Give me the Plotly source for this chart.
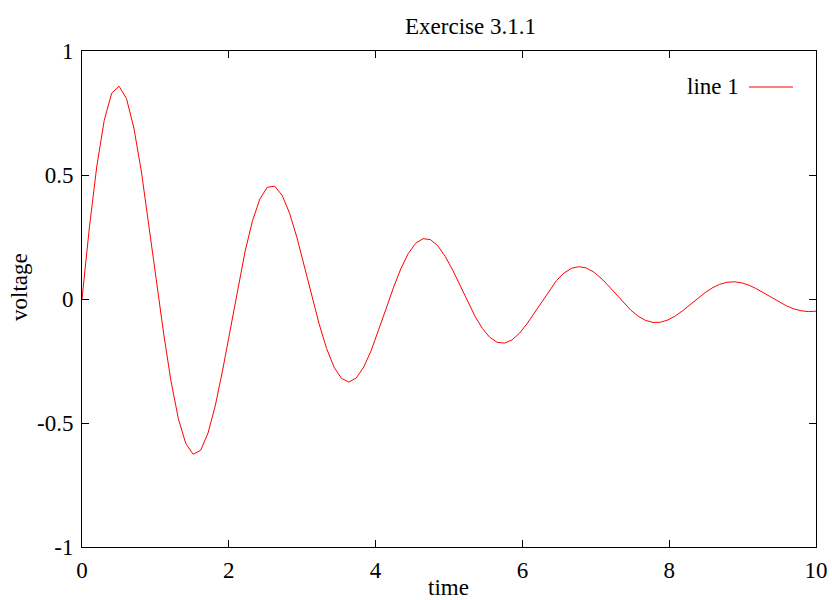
import plotly.graph_objects as go

time = [0.000,0.101,0.202,0.303,0.404,0.505,0.606,0.707,0.808,0.909,1.010,1.111,1.212,1.313,1.414,1.515,1.616,1.717,1.818,1.919,
        2.020,2.121,2.222,2.323,2.424,2.525,2.626,2.727,2.828,2.929,3.030,3.131,3.232,3.333,3.434,3.535,3.636,3.737,3.838,3.939,
        4.040,4.141,4.242,4.343,4.444,4.545,4.646,4.747,4.848,4.949,5.051,5.152,5.253,5.354,5.455,5.556,5.657,5.758,5.859,5.960,
        6.061,6.162,6.263,6.364,6.465,6.566,6.667,6.768,6.869,6.970,7.071,7.172,7.273,7.374,7.475,7.576,7.677,7.778,7.879,7.980,
        8.081,8.182,8.283,8.384,8.485,8.586,8.687,8.788,8.889,8.990,9.091,9.192,9.293,9.394,9.495,9.596,9.697,9.798,9.899,10.000]
voltage = [0.0,0.2895,0.5362,0.7204,0.8298,0.8580,0.8084,0.6893,0.5161,0.3065,
           0.0820,-0.1366,-0.3301,-0.4827,-0.5833,-0.6260,-0.6101,-0.5407,-0.4272,-0.2822,
           -0.1204,0.0425,0.1921,0.3157,0.4038,0.4507,0.4547,0.4178,0.3457,0.2470,
           0.1320,0.0121,-0.1019,-0.2001,-0.2747,-0.3203,-0.3347,-0.3183,-0.2744,-0.2087,
           -0.1281,-0.0409,0.0449,0.1216,0.1829,0.2243,0.2433,0.2394,0.2143,0.1716,
           0.1161,0.0535,-0.0103,-0.0693,-0.1187,-0.1546,-0.1746,-0.1778,-0.1649,-0.1381,
           -0.1005,-0.0562,-0.0094,0.0354,0.0745,0.1046,0.1236,0.1304,0.1252,0.1091,
           0.0842,0.0533,0.0194,-0.0142,-0.0446,-0.0692,-0.0862,-0.0945,-0.0938,-0.0848,
           -0.0688,-0.0476,-0.0234,0.0015,0.0248,0.0445,0.0591,0.0675,0.0694,0.0650,
           0.0551,0.0408,0.0237,0.0055,-0.0121,-0.0276,-0.0397,-0.0476,-0.0508,-0.0492]
x_ticks = [0, 2, 4, 6, 8, 10]
y_ticks = [-1, -0.5, 0, 0.5, 1]
y_tick_text = ["-1", "-0.5", "0", "0.5", "1"]

FONT = "Liberation Serif, Times New Roman, serif"
FS = 23
W, H = 832, 600
L, R, T, B = 82, 16, 51, 53

fig = go.Figure()
fig.add_trace(go.Scatter(x=time, y=voltage, mode="lines",
                         line=dict(color="#ff0000", width=1), name="line 1",
                         showlegend=False))

axis_common = dict(showgrid=False, zeroline=False, showline=True, linecolor="black",
                   linewidth=1, mirror="allticks", ticks="inside", ticklen=7,
                   tickcolor="black", tickwidth=1, automargin=False,
                   tickfont=dict(family=FONT, size=FS, color="black"))
fig.update_xaxes(range=[0, 10], tickvals=x_ticks, ticktext=[str(v) for v in x_ticks],
                 ticklabelstandoff=2, **axis_common)
fig.update_yaxes(range=[-1, 1], tickvals=y_ticks, ticktext=y_tick_text,
                 ticklabelstandoff=3, **axis_common)

pw = W - L - R
ph = H - T - B

def px(x):
    return (x - L) / pw

def py(y):
    return (H - B - y) / ph

# axis titles
fig.add_annotation(x=px(448), y=py(587), xref="paper", yref="paper", text="time",
                   showarrow=False, xanchor="center", yanchor="middle",
                   font=dict(family=FONT, size=FS, color="black"))
fig.add_annotation(x=px(19), y=py(287), xref="paper", yref="paper", text="voltage",
                   showarrow=False, xanchor="center", yanchor="middle", textangle=-90,
                   font=dict(family=FONT, size=FS, color="black"))
# legend: text then sample line, gnuplot style
fig.add_annotation(x=px(741), y=py(86), xref="paper", yref="paper",
                   text="line 1", showarrow=False, xanchor="right", yanchor="middle",
                   font=dict(family=FONT, size=FS, color="black"))
fig.add_shape(type="line", xref="paper", yref="paper",
              x0=px(749), x1=px(793), y0=py(87), y1=py(87),
              line=dict(color="#ff0000", width=1))
# title
fig.add_annotation(x=px(470), y=py(26), xref="paper", yref="paper",
                   text="Exercise 3.1.1", showarrow=False, xanchor="center", yanchor="middle",
                   font=dict(family=FONT, size=FS, color="black"))

fig.update_layout(width=W, height=H, margin=dict(l=L, r=R, t=T, b=B, autoexpand=False),
                  paper_bgcolor="white", plot_bgcolor="white",
                  font=dict(family=FONT, size=FS, color="black"))
fig.write_html("out.html")
